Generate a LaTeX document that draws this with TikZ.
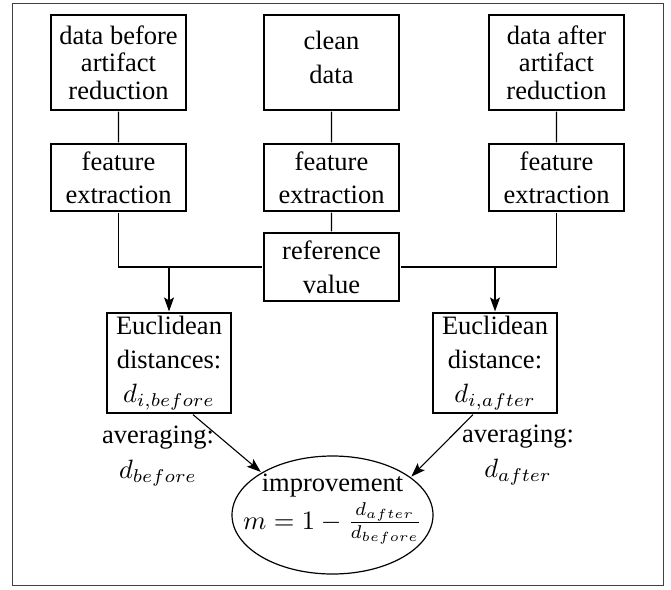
\documentclass[tikz,border=0pt]{standalone}
\usepackage{fontspec}
\setmainfont{Liberation Serif}
\usetikzlibrary{arrows.meta,shapes.geometric,calc}

\begin{document}
% Drawn at 10pt and magnified, so that the math keeps its small-size designs.
\begin{tikzpicture}[x=0.377358pt,y=-0.377358pt,scale=2.65,
  every node/.append style={transform shape},
  box/.style={draw, line width=1.2pt, rectangle, align=center, inner sep=0pt,
    font=\fontsize{10}{12.8}\selectfont},
  plain/.style={align=center, inner sep=0pt, font=\fontsize{10}{13}\selectfont},
  link/.style={line width=1.2pt},
  arr/.style={line width=1.1pt, -{Stealth[length=14pt,width=10pt,inset=3pt]}}]
  \useasboundingbox (0,0) rectangle (671,589);
  % outer frame
  \draw[black!75, line width=1pt] (12,3) rectangle (663,585);

  % input data
  \node[box, minimum width=50.94pt, minimum height=35.85pt,
        font=\fontsize{10}{10.4}\selectfont] (rawB) at (118.5,62.5) {data before\\artifact\\reduction};
  \node[box, minimum width=50.94pt, minimum height=35.85pt, text depth=4.15pt] (clean) at (331.5,62.5) {clean\\data};
  \node[box, minimum width=50.94pt, minimum height=35.85pt,
        font=\fontsize{10}{10.4}\selectfont] (rawA) at (556.5,62.5) {data after\\artifact\\reduction};

  % feature extraction
  \node[box, minimum width=50.94pt, minimum height=25.28pt,
        font=\fontsize{10}{12.3}\selectfont] (featB) at (118.5,177.5) {feature\\extraction};
  \node[box, minimum width=50.94pt, minimum height=25.28pt,
        font=\fontsize{10}{12.3}\selectfont] (featC) at (331.5,177.5) {feature\\extraction};
  \node[box, minimum width=50.94pt, minimum height=25.28pt,
        font=\fontsize{10}{12.3}\selectfont] (featA) at (556.5,177.5) {feature\\extraction};

  \node[box, minimum width=50.94pt, minimum height=25.66pt] (ref) at (331.5,267) {reference\\value};

  % distances
  \node[box, minimum width=46.79pt, minimum height=37.74pt] (eL) at (169,363) {Euclidean\\distances:\\$d_{i,before}$};
  \node[box, minimum width=46.79pt, minimum height=37.74pt] (eR) at (495,363) {Euclidean\\distance:\\$d_{i,after}$};

  \node[plain] (avgL) at (158,456) {averaging:\\$d_{before}$};
  \node[plain] (avgR) at (518,455) {averaging:\\$d_{after}$};

  % result
  \node[draw, ellipse, line width=1.2pt, inner sep=0pt, minimum width=75.85pt, minimum height=44.53pt] (imp) at (332.5,515) {};
  \node[plain, font=\fontsize{10}{14}\selectfont] (impt) at (332.5,509) {improvement\\$m=1-\frac{d_{after}}{d_{before}}$};

  % connectors
  \draw[link] (rawB) -- (featB);
  \draw[link] (clean) -- (featC);
  \draw[link] (rawA) -- (featA);
  \draw[link] (featC) -- (ref);
  \draw[link] (featB.south) |- (ref.west);
  \draw[link] (ref.east) -| (featA.south);
  \draw[arr] (eL.north |- ref.west) -- (eL.north);
  \draw[arr] (eR.north |- ref.east) -- (eR.north);
  \draw[arr] ($(eL.south)+(24,0)$) -- (imp.149);
  \draw[arr] ($(eR.south)+(-22,0)$) -- (imp.26);
\end{tikzpicture}
\end{document}
